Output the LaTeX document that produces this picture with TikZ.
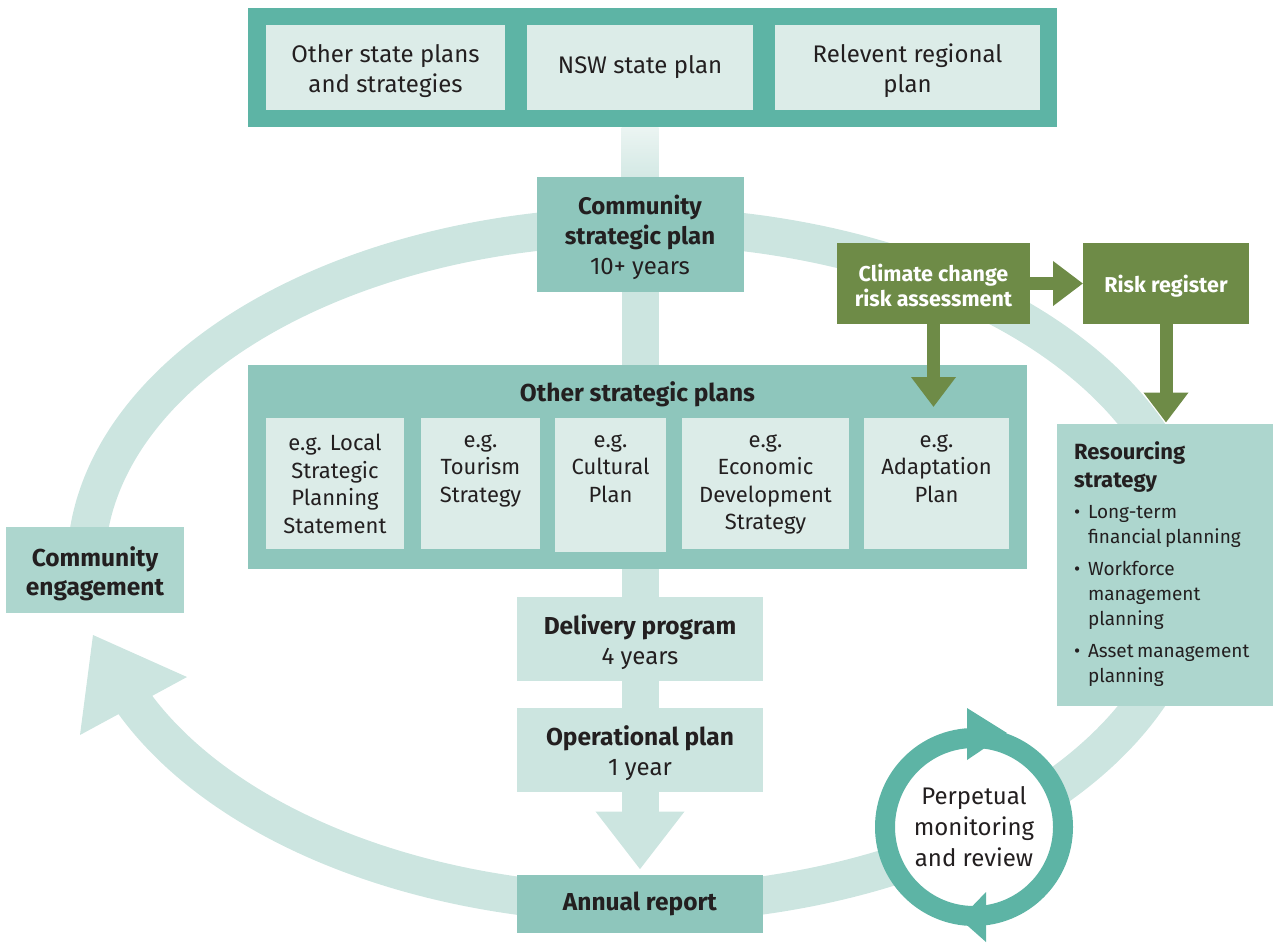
\documentclass[tikz,border=0pt]{standalone}
\usepackage{fontspec}
\setmainfont{Fira Sans}
\usetikzlibrary{arrows.meta,calc}

\definecolor{tealdark}{HTML}{5DB4A5}
\definecolor{tealmid}{HTML}{8EC6BC}
\definecolor{teallm}{HTML}{ADD6CE}
\definecolor{teallight}{HTML}{CCE5E0}
\definecolor{tealpale}{HTML}{DCECE8}
\definecolor{olive}{HTML}{6E8B47}
\definecolor{ink}{HTML}{231F20}

% tall first-line strut that lowers multi-line box texts a little
\newcommand\boxstrut[1]{\rule{0pt}{#1}}

\pgfdeclarelayer{bg}
\pgfsetlayers{bg,main}

\begin{document}
\begin{tikzpicture}[x=1pt,y=-1pt,
  box/.style={rectangle, inner sep=0pt, outer sep=0pt, text=ink, align=center,
              font=\fontsize{24}{30}\selectfont},
  plain/.style={rectangle, inner sep=0pt, outer sep=0pt},
  lbl/.style={anchor=north, inner sep=0pt, align=center, text=ink,
              font=\fontsize{22}{27.5}\selectfont, execute at begin node=\strut},
  greenbox/.style={rectangle, inner sep=0pt, outer sep=0pt, align=center, fill=olive,
              text=white, font=\fontsize{21.5}{25}\selectfont\bfseries},
  ring/.style={draw=teallight, line width=38pt},
  spine/.style={draw=teallight, line width=37pt},
  greenarrow/.style={draw=olive, line width=13pt, -{Triangle[width=43pt,length=30pt]}},
]
\useasboundingbox (0,0) rectangle (1273,943);

% ---------- state level plans ----------
\node[plain, fill=tealdark, minimum width=809pt, minimum height=119pt] (state) at (652.5,67.5) {};
\node[box, fill=tealpale, minimum width=239pt, minimum height=85pt] (osps) at (385.5,67.5) {\boxstrut{25pt}Other state plans\\and strategies};
\node[box, fill=tealpale, minimum width=226pt, minimum height=85pt] (nsw) at (640,67.5) {NSW state plan};
\node[box, fill=tealpale, minimum width=265pt, minimum height=85pt] (reg) at (907.5,67.5) {\boxstrut{25pt}Relevent regional\\plan};

% ---------- central column ----------
\node[box, fill=tealmid, minimum width=207pt, minimum height=115pt] (csp) at (640,234.5)
  {\boxstrut{26pt}\textbf{Community}\\\textbf{strategic plan}\\10+ years};

\node[plain, fill=tealmid, minimum width=779pt, minimum height=204pt,
      label={[anchor=base, inner sep=0pt, yshift=-36pt, text=ink, font=\fontsize{24.5}{30}\selectfont\bfseries]north:Other strategic plans}]
      (osp) at (637.5,467) {};

\node[plain, fill=tealpale, minimum width=138pt, minimum height=131pt,
      label={[lbl, yshift=-16pt]north:e.g. Local\\Strategic\\Planning\\Statement}] (lsps) at (335,483.5) {};
\node[plain, fill=tealpale, minimum width=119pt, minimum height=131pt,
      label={[lbl, yshift=-16pt]north:e.g.\\Tourism\\Strategy}] (tour) at (480.5,483.5) {};
\node[plain, fill=tealpale, minimum width=111pt, minimum height=134pt,
      label={[lbl, yshift=-16pt]north:e.g.\\Cultural\\Plan}] (cult) at (610.5,485) {};
\node[plain, fill=tealpale, minimum width=167pt, minimum height=131pt,
      label={[lbl, yshift=-16pt]north:e.g.\\Economic\\Development\\Strategy}] (econ) at (765.5,483.5) {};
\node[plain, fill=tealpale, minimum width=145pt, minimum height=131pt,
      label={[lbl, yshift=-16pt]north:e.g.\\Adaptation\\Plan}] (adapt) at (936.5,483.5) {};

\node[box, fill=teallight, minimum width=246pt, minimum height=84pt] (dp) at (640,639)
  {\boxstrut{26pt}\textbf{\fontsize{24.5}{30}\selectfont Delivery program}\\4 years};
\node[box, fill=teallight, minimum width=246pt, minimum height=84pt] (op) at (640,750)
  {\boxstrut{26pt}\textbf{\fontsize{24.5}{30}\selectfont Operational plan}\\1 year};
\node[box, fill=tealmid, minimum width=246pt, minimum height=58pt] (ar) at (640,903.5)
  {\textbf{\fontsize{24.5}{30}\selectfont Annual report}};

% ---------- side boxes ----------
\node[box, fill=teallm, minimum width=178pt, minimum height=86pt, font=\fontsize{24.5}{29}\selectfont\bfseries] (ce) at (95,570)
  {\boxstrut{27pt}Community\\engagement};

\node[plain, fill=teallm, minimum width=216pt, minimum height=282pt, inner xsep=17pt,
      text width=182pt, align=left, text=ink] (rs) at (1165,564.5)
  {{\fontsize{22}{28}\selectfont\bfseries Resourcing\\strategy\par}
   {\fontsize{19}{25}\selectfont
   \vspace{6pt}
   \hangindent=14pt\hangafter=1\noindent\makebox[14pt][l]{•}Long-term\newline financial planning\par
   \vspace{7pt}
   \hangindent=14pt\hangafter=1\noindent\makebox[14pt][l]{•}Workforce\newline management\newline planning\par
   \vspace{7pt}
   \hangindent=14pt\hangafter=1\noindent\makebox[14pt][l]{•}Asset management\newline planning\par}};

\node[greenbox, minimum width=193pt, minimum height=81pt] (cc) at (933.5,283.5)
  {\boxstrut{21pt}Climate change\\risk assessment};
\node[greenbox, minimum width=166pt, minimum height=81pt] (rr) at (1166,283.5)
  {\boxstrut{23pt}Risk register};

% ---------- monitoring cycle ----------
\node[circle, draw=tealdark, line width=20pt, fill=white, minimum size=178pt, inner sep=0pt,
      align=center, text=ink, font=\fontsize{24}{31}\selectfont] (mon) at (974,827)
  {Perpetual\\monitoring\\and review};
\fill[tealdark] ($(mon.center)+(-7,-119)$) -- ($(mon.center)+(-7,-67)$) -- ($(mon.center)+(33,-94)$) -- cycle;
\fill[tealdark] ($(mon.center)+(12,65)$) -- ($(mon.center)+(12,115)$) -- ($(mon.center)+(-14,92)$) -- cycle;

% ---------- green arrows ----------
\draw[greenarrow] (cc.east) -- (rr.west);
\draw[greenarrow, shorten >=11pt] (cc.south) -- (cc.south |- adapt.north);
\draw[greenarrow, shorten >=1pt] (rr.south) -- (rr.south |- rs.north);

% ---------- background: planning loop and central spine ----------
\begin{pgfonlayer}{bg}
  \draw[ring] plot[domain=180:522, samples=240, smooth] ({639+553*cos(\x)},{565+339*sin(\x)});
  \fill[teallight] (187,677) -- (80,735) -- (93,635) -- cycle;
  \shade[top color=tealpale!55!white, bottom color=teallight!85!white]
    ($(state.south -| csp.north)+(-18.5,0)$) rectangle ($(csp.north)+(18.5,0)$);
  \draw[spine] (csp.south) -- (op.south);
  \draw[spine, -{Triangle[width=85pt,length=58pt]}, shorten >=5pt] (op.south) -- (ar.north);
\end{pgfonlayer}
\end{tikzpicture}
\end{document}
